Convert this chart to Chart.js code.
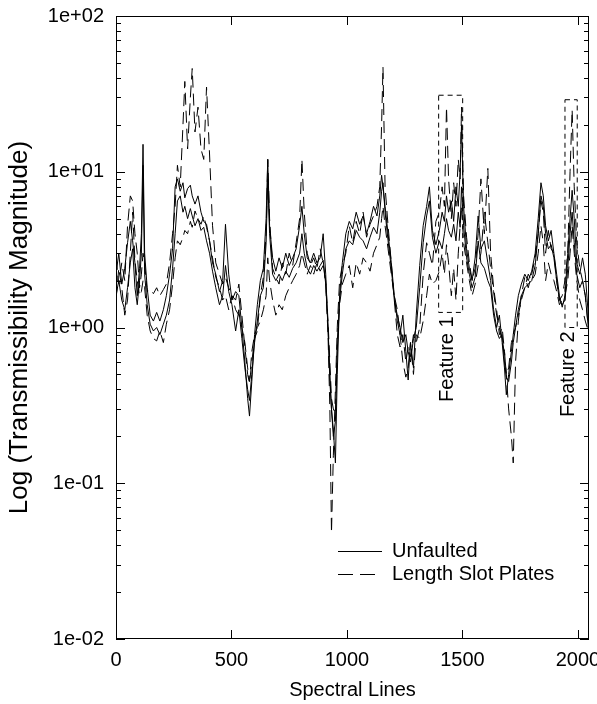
<!DOCTYPE html>
<html>
<head>
<meta charset="utf-8">
<script src="https://cdn.jsdelivr.net/npm/chart.js@4.4.1/dist/chart.umd.min.js"></script>
<style>
    body { margin: 0; background: #fff; }
    canvas { display: block; }
</style>
</head>
<body>
<canvas id="chart" width="597" height="704"></canvas>
<script>
// spectral line index shared by all four traces
const spectralLines = [
    0, 12, 25, 38, 50, 62, 72, 82, 92, 102,
    110, 117, 124, 135, 148, 162, 176, 190, 205, 218,
    232, 245, 256, 266, 278, 290, 298, 310, 322, 330,
    342, 355, 368, 380, 392, 405, 418, 432, 448, 462,
    474, 488, 502, 518, 532, 545, 558, 570, 578, 588,
    600, 612, 625, 638, 650, 657, 665, 678, 692, 706,
    720, 735, 750, 765, 780, 795, 805, 815, 828, 842,
    856, 870, 884, 897, 908, 918, 926, 933, 941, 950,
    958, 968, 980, 995, 1010, 1025, 1040, 1055, 1070, 1085,
    1100, 1115, 1130, 1142, 1150, 1156, 1165, 1178, 1192, 1205,
    1218, 1230, 1242, 1255, 1265, 1275, 1288, 1300, 1315, 1330,
    1345, 1357, 1370, 1385, 1400, 1412, 1422, 1431, 1440, 1452,
    1462, 1472, 1482, 1490, 1496, 1505, 1518, 1530, 1542, 1555,
    1568, 1580, 1595, 1610, 1622, 1635, 1648, 1660, 1672, 1682,
    1690, 1700, 1712, 1720, 1730, 1742, 1755, 1770, 1785, 1800,
    1815, 1828, 1840, 1850, 1860, 1872, 1884, 1896, 1908, 1920,
    1932, 1944, 1956, 1966, 1975, 1984, 1995, 2008, 2020, 2032,
    2045
];

// unfaulted runs (solid)
const unfaultedA = [
    2.2, 3.0, 1.9, 2.4, 3.5, 4.8, 3.6, 2.6, 1.6, 2.4,
    4.0, 15, 3.0, 1.8, 1.2, 1.1, 1.25, 1.1, 1.3, 1.6,
    2.2, 3.2, 8.0, 9.0, 7.5, 8.5, 6.8, 7.8, 8.2, 7.0,
    6.2, 7.0, 5.5, 4.8, 4.6, 3.6, 2.6, 2.2, 1.7, 2.0,
    4.6, 2.2, 1.5, 1.7, 1.6, 1.0, 0.6, 0.35, 0.27, 0.45,
    0.9, 1.4, 2.0, 2.4, 5.0, 12, 4.5, 2.8, 2.3, 2.8,
    2.4, 3.0, 2.5, 2.8, 3.2, 4.5, 6.0, 4.0, 2.8, 2.6,
    3.0, 2.6, 2.8, 4.0, 2.2, 1.0, 0.45, 0.3, 0.22, 0.135,
    0.5, 1.6, 2.6, 4.0, 4.8, 4.3, 5.5, 4.6, 5.2, 4.0,
    4.8, 6.0, 5.2, 7.0, 9.5, 8.0, 6.0, 4.0, 2.6, 1.6,
    1.1, 0.9, 1.2, 0.7, 0.46, 0.8, 0.55, 1.2, 2.5, 4.5,
    6.0, 8.0, 4.2, 3.4, 4.2, 5.5, 4.8, 7.0, 5.5, 6.5,
    4.8, 8.0, 6.0, 10, 20, 6.0, 3.2, 2.4, 2.0, 2.8,
    5.2, 3.2, 3.6, 2.6, 2.0, 1.3, 1.0, 1.2, 0.8, 0.55,
    0.37, 0.5, 0.7, 0.9, 1.2, 1.6, 1.9, 2.2, 2.0, 2.3,
    3.0, 5.0, 8.5, 7.0, 4.5, 3.6, 4.2, 3.0, 2.2, 1.6,
    1.35, 1.6, 3.0, 5.0, 7.6, 5.0, 2.6, 2.2, 2.8, 2.2,
    1.2
];
const unfaultedB = [
    1.6, 2.0, 1.5, 1.3, 1.8, 2.6, 3.2, 1.8, 1.4, 2.0,
    3.0, 11, 2.2, 1.4, 1.05, 0.95, 1.0, 0.9, 1.05, 1.2,
    1.5, 2.4, 4.0, 6.5, 7.0, 5.5, 6.0, 5.0, 5.8, 5.2,
    4.5, 5.0, 4.2, 4.4, 3.6, 3.0, 2.3, 1.8, 1.4, 1.6,
    2.5, 1.7, 1.4, 0.95, 1.3, 0.85, 0.55, 0.4, 0.34, 0.5,
    0.8, 1.1, 1.6, 1.8, 3.5, 9, 4.0, 2.2, 2.0, 2.2,
    2.0, 2.3, 2.1, 2.4, 2.6, 3.0, 4.0, 3.0, 2.4, 2.2,
    2.5, 2.3, 2.5, 2.7, 1.9, 1.0, 0.5, 0.3, 0.2, 0.25,
    0.7, 1.5, 2.2, 3.2, 3.6, 3.4, 4.2, 3.8, 3.6, 3.2,
    3.8, 4.4, 4.0, 5.5, 7.5, 8.5, 5.5, 3.6, 2.4, 1.5,
    1.2, 1.0, 0.8, 0.9, 0.7, 0.6, 0.85, 1.0, 1.8, 3.5,
    5.2, 6.5, 3.8, 3.0, 3.6, 3.2, 4.0, 5.0, 4.2, 3.8,
    4.6, 3.6, 5.5, 4.4, 8.0, 4.5, 2.8, 2.2, 1.8, 2.1,
    3.6, 2.6, 2.4, 2.0, 1.8, 1.2, 0.95, 0.85, 0.9, 0.6,
    0.48, 0.45, 0.6, 0.8, 1.0, 1.3, 1.6, 1.8, 1.9, 2.0,
    2.5, 4.0, 7.0, 6.0, 4.0, 3.2, 3.4, 2.8, 2.0, 1.5,
    1.4, 1.5, 2.4, 4.0, 5.5, 3.5, 2.2, 1.8, 2.0, 1.6,
    1.0
];

// length slot plates runs (dashed)
const slotPlatesA = [
    2.8, 1.9, 2.6, 2.0, 4.5, 7.0, 6.5, 4.0, 3.0, 1.8,
    2.2, 3.0, 2.6, 1.7, 1.75, 1.65, 1.8, 1.6, 1.75, 1.9,
    2.6, 4.0, 6.0, 11, 8.0, 20, 38, 14, 30, 46,
    18, 26, 14, 12, 35, 13, 4.5, 2.6, 2.2, 1.9,
    2.1, 1.8, 1.6, 1.5, 1.9, 1.2, 0.75, 0.5, 0.44, 0.6,
    0.85, 0.95, 1.6, 2.1, 4.0, 12, 5.0, 2.4, 2.1, 1.9,
    2.6, 2.2, 3.0, 2.5, 3.5, 5.0, 12, 5.5, 3.0, 2.5,
    2.8, 2.4, 3.2, 2.6, 1.9, 0.9, 0.3, 0.048, 0.15, 0.4,
    1.0, 2.0, 2.5, 3.0, 4.5, 3.5, 4.8, 4.0, 5.5, 3.8,
    4.6, 5.2, 6.0, 8.0, 20, 47, 8.0, 4.5, 2.6, 1.5,
    0.9, 0.75, 0.9, 0.6, 0.75, 0.65, 0.9, 0.8, 1.0, 2.2,
    3.5, 3.0, 2.5, 4.8, 5.5, 8.0, 6.0, 26, 9.0, 5.0,
    8.5, 6.0, 12, 9.0, 26, 7.0, 3.8, 2.6, 2.0, 2.4,
    4.0, 9.0, 4.0, 10.5, 3.0, 1.8, 1.3, 0.9, 1.0, 0.7,
    0.5, 0.3, 0.2, 0.135, 0.6, 1.1, 1.6, 2.1, 1.8, 2.2,
    2.8, 4.0, 6.5, 5.5, 3.0, 4.2, 3.2, 3.0, 2.0, 1.5,
    1.6, 2.0, 3.0, 10, 25, 8.0, 3.5, 2.4, 2.0, 1.6,
    1.0
];
const slotPlatesB = [
    1.5, 2.4, 1.8, 1.2, 1.5, 3.0, 5.5, 2.7, 2.0, 1.6,
    1.7, 2.0, 1.8, 1.2, 0.95, 0.85, 0.82, 0.95, 0.8, 1.05,
    1.3, 1.9, 2.8, 3.6, 3.4, 3.8, 4.2, 4.0, 4.8, 4.4,
    5.6, 5.0, 4.6, 5.2, 4.4, 3.6, 2.8, 2.1, 1.8, 1.5,
    1.6, 1.3, 1.6, 1.3, 1.2, 1.0, 0.8, 0.55, 0.45, 0.7,
    0.9, 1.0, 1.1, 1.3, 1.6, 2.8, 2.0, 1.5, 1.2, 1.4,
    1.3, 1.6, 1.8, 2.0, 2.2, 2.5, 3.0, 2.6, 2.2, 2.5,
    2.2, 2.6, 2.3, 2.5, 2.0, 1.1, 0.6, 0.35, 0.3, 0.28,
    0.8, 1.4, 1.9, 2.2, 2.5, 1.8, 2.6, 2.2, 2.8, 2.6,
    2.3, 3.0, 3.4, 3.8, 5.0, 6.0, 4.5, 3.2, 2.2, 1.6,
    1.3, 0.9, 0.6, 0.48, 0.55, 0.8, 0.5, 0.9, 0.85, 1.1,
    1.6, 2.2, 1.9, 2.0, 2.3, 3.0, 2.2, 3.4, 2.6, 1.6,
    2.4, 1.5, 3.0, 4.5, 6.0, 3.5, 2.6, 2.0, 1.6, 1.9,
    2.5, 3.0, 5.5, 3.5, 2.4, 1.7, 1.2, 1.0, 0.8, 0.7,
    0.5, 0.55, 0.8, 0.9, 1.0, 1.2, 1.5, 1.8, 2.2, 2.0,
    2.2, 3.0, 4.5, 3.5, 2.0, 2.6, 2.2, 2.0, 1.7, 1.4,
    1.5, 1.6, 2.0, 3.0, 4.5, 3.0, 2.0, 1.5, 1.3, 1.1,
    0.95
];

const xTicks = [0, 500, 1000, 1500, 2000];
const yTicks = [0.01, 0.1, 1, 10, 100];

// dashed boxes marking the two features
const featureNames = ["Feature 1", "Feature 2"];
const featureFrom = [1397, 1944];
const featureTo = [1501, 1997];
const featureTop = [31, 29];
const featureBottom = [1.25, 1.0];

const legendNames = ["Unfaulted", "Length Slot Plates"];

const FONT = "'Liberation Sans', Arial, Helvetica, sans-serif";
const DASH = [12, 6];

function toPoints(values) {
    return values.map((v, i) => ({ x: spectralLines[i], y: v }));
}

function expLabel(v) {
    const e = Math.round(Math.log10(v));
    return "1e" + (e < 0 ? "-" : "+") + String(Math.abs(e)).padStart(2, "0");
}

function lineSet(label, values, dash) {
    return {
        label: label,
        data: toPoints(values),
        borderColor: "#000",
        borderWidth: 1,
        borderDash: dash,
        pointRadius: 0,
        tension: 0,
        fill: false,
    };
}

// keep the plot box where the layout puts it, no room reserved for end labels
function noEdgePadding(s) {
    s.paddingTop = 0;
    s.paddingBottom = 0;
    s.paddingLeft = 0;
    s.paddingRight = 0;
}

// frame, inward ticks on all four sides, feature boxes, legend
const decorations = {
    id: "decorations",
    afterDatasetsDraw(chart) {
        const { ctx, chartArea: a, scales } = chart;
        const x = scales.x;
        const y = scales.y;
        ctx.save();
        ctx.strokeStyle = "#000";
        ctx.fillStyle = "#000";
        ctx.lineWidth = 1;
        ctx.setLineDash([]);
        ctx.strokeRect(a.left + 0.5, a.top + 0.5, a.right - a.left - 1, a.bottom - a.top - 1);

        ctx.beginPath();
        for (let e = -2; e < 2; e++) {
            for (let m = 1; m < 10; m++) {
                const py = Math.round(y.getPixelForValue(m * Math.pow(10, e))) + 0.5;
                const len = m == 1 ? 9 : 5;
                ctx.moveTo(a.left, py);
                ctx.lineTo(a.left + len, py);
                ctx.moveTo(a.right, py);
                ctx.lineTo(a.right - len, py);
            }
        }
        xTicks.forEach((t) => {
            const px = Math.round(x.getPixelForValue(t)) + 0.5;
            ctx.moveTo(px, a.bottom);
            ctx.lineTo(px, a.bottom - 9);
            ctx.moveTo(px, a.top);
            ctx.lineTo(px, a.top + 9);
        });
        ctx.stroke();

        // feature boxes and their labels
        ctx.setLineDash([5, 4]);
        ctx.font = "20px " + FONT;
        featureNames.forEach((name, i) => {
            const x0 = x.getPixelForValue(featureFrom[i]);
            const x1 = x.getPixelForValue(featureTo[i]);
            const y0 = y.getPixelForValue(featureTop[i]);
            const y1 = y.getPixelForValue(featureBottom[i]);
            ctx.strokeRect(x0, y0, x1 - x0, y1 - y0);

            ctx.save();
            ctx.translate((x0 + x1) / 2 - 3, y1 + 4);
            ctx.rotate(-Math.PI / 2);
            ctx.textAlign = "right";
            ctx.textBaseline = "middle";
            ctx.fillText(name, 0, 0);
            ctx.restore();
        });

        // legend
        const lx = a.left + 222;
        const ly = a.top + 535;
        legendNames.forEach((name, i) => {
            const yy = ly + i * 23;
            ctx.setLineDash(i == 0 ? [] : [15, 7]);
            ctx.beginPath();
            ctx.moveTo(lx, yy + 0.5);
            ctx.lineTo(lx + 44, yy + 0.5);
            ctx.stroke();
            ctx.textAlign = "left";
            ctx.textBaseline = "middle";
            ctx.fillText(name, lx + 54, yy);
        });
        ctx.restore();
    },
};

new Chart(document.getElementById("chart"), {
    type: "line",
    data: {
        datasets: [
            lineSet("Unfaulted", unfaultedA, []),
            lineSet("Unfaulted", unfaultedB, []),
            lineSet("Length Slot Plates", slotPlatesA, DASH),
            lineSet("Length Slot Plates", slotPlatesB, DASH),
        ],
    },
    options: {
        responsive: false,
        animation: false,
        layout: {
            autoPadding: false,
            padding: { left: 0, top: 16, right: 8, bottom: 0 },
        },
        plugins: {
            legend: { display: false },
            tooltip: { enabled: false },
        },
        scales: {
            x: {
                type: "linear",
                min: 0,
                max: 2048,
                afterBuildTicks: (s) => {
                    s.ticks = xTicks.map((v) => ({ value: v }));
                },
                afterFit: (s) => {
                    s.height = 65;
                    noEdgePadding(s);
                },
                grid: { display: false, drawTicks: false },
                border: { display: false },
                ticks: {
                    color: "#000",
                    padding: 9,
                    maxRotation: 0,
                    font: { family: FONT, size: 20 },
                    callback: (v) => String(v),
                },
                title: {
                    display: true,
                    text: "Spectral Lines",
                    color: "#000",
                    font: { family: FONT, size: 20 },
                    padding: { top: 0, bottom: 2 },
                },
            },
            y: {
                type: "logarithmic",
                min: 0.01,
                max: 100,
                afterBuildTicks: (s) => {
                    s.ticks = yTicks.map((v) => ({ value: v }));
                },
                afterFit: (s) => {
                    s.width = 116;
                    noEdgePadding(s);
                },
                grid: { display: false, drawTicks: false },
                border: { display: false },
                ticks: {
                    color: "#000",
                    padding: 12,
                    font: { family: FONT, size: 20 },
                    callback: (v) => expLabel(v),
                },
                title: {
                    display: true,
                    text: "Log (Transmissibility Magnitude)",
                    color: "#000",
                    font: { family: FONT, size: 26 },
                    padding: { top: 4, bottom: 0 },
                },
            },
        },
    },
    plugins: [decorations],
});
</script>
</body>
</html>
